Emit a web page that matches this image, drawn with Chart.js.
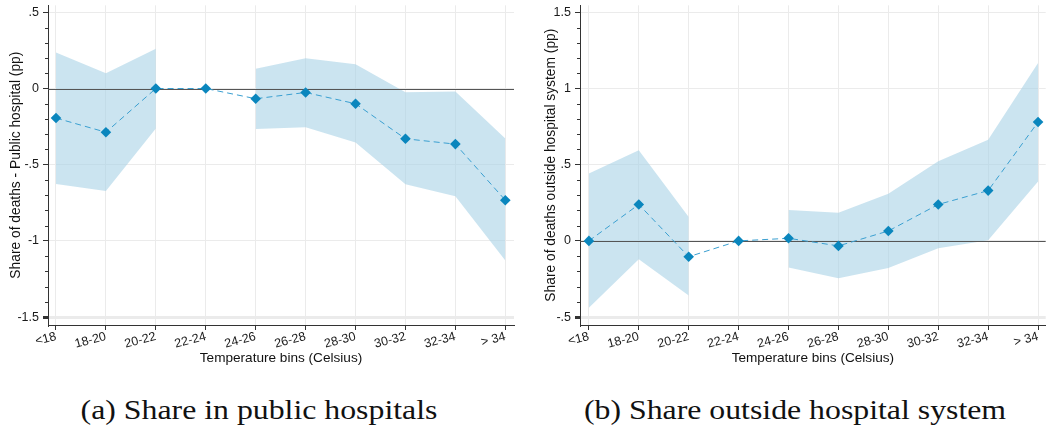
<!DOCTYPE html>
<html>
<head>
<meta charset="utf-8">
<script src="https://cdn.jsdelivr.net/npm/chart.js@4.4.1/dist/chart.umd.min.js"></script>
<style>
  html, body { margin: 0; padding: 0; background: #fff; width: 1051px; height: 432px; overflow: hidden; }
  canvas { position: absolute; top: 0; }
  #panelA { left: 0; }
  #panelB { left: 528px; }
  .cap {
    position: absolute; top: 397px; transform: translateX(-50%) scaleX(1.2);
    font-family: "Liberation Serif", "DejaVu Serif", serif; font-size: 26.5px;
    color: #111; white-space: nowrap; line-height: 1;
  }
</style>
</head>
<body>
<canvas id="panelA" width="525" height="370"></canvas>
<canvas id="panelB" width="523" height="370"></canvas>
<div class="cap" style="left:259px">(a) Share in public hospitals</div>
<div class="cap" style="left:795px">(b) Share outside hospital system</div>

<script>
// Temperature bins (Celsius)
const bins = ['<18', '18-20', '20-22', '22-24', '24-26', '26-28', '28-30', '30-32', '32-34', '> 34'];

// (a) Share of deaths in public hospitals, pp (22-24 is the reference bin)
const publicEst = [-0.194, -0.287, 0.000, 0.000, -0.067, -0.026, -0.100, -0.330, -0.365, -0.733];
const publicHi  = [ 0.237,  0.100, 0.261, null,   0.130,  0.198,  0.159, -0.024, -0.020, -0.328];
const publicLo  = [-0.626, -0.672, -0.263, null, -0.265, -0.254, -0.354, -0.628, -0.707, -1.129];

// (b) Share of deaths outside the hospital system, pp
const outsideEst = [ 0.000,  0.239, -0.104, 0.000,  0.017, -0.033,  0.065,  0.239, 0.330, 0.780];
const outsideHi  = [ 0.443,  0.594,  0.157, null,   0.202,  0.185,  0.309,  0.522, 0.663, 1.168];
const outsideLo  = [-0.439, -0.120, -0.359, null,  -0.174, -0.246, -0.178, -0.048, 0.004, 0.389];

// y-axis tick values
const publicTicks  = [-1.5, -1, -0.5, 0, 0.5];
const outsideTicks = [-0.5, 0, 0.5, 1, 1.5];

Chart.defaults.font.family = '"Liberation Sans", Arial, sans-serif';
Chart.defaults.color = '#1a1a1a';

const BAND = 'rgba(168, 210, 230, 0.6)';
const LINE = '#3a9fd0';
const MARK = '#0a86bd';

// Stata-style number labels: ".5", "-.5", "1.5"
function fmt(v) {
  if (v === 0) return '0';
  return String(v).replace(/^(-?)0\./, '$1.');
}

// zero reference line (over the band, under the series) and minor y ticks
const refPlugin = {
  id: 'refline',
  beforeDatasetsDraw(chart) {
    const { ctx, chartArea } = chart;
    const y0 = Math.round(chart.scales.y.getPixelForValue(0)) + 0.5;
    ctx.save();
    ctx.strokeStyle = '#555';
    ctx.lineWidth = 1;
    ctx.beginPath();
    ctx.moveTo(chartArea.left, y0);
    ctx.lineTo(chartArea.right, y0);
    ctx.stroke();
    ctx.restore();
  },
  afterDraw(chart) {
    const { ctx, chartArea } = chart;
    const ys = chart.scales.y;
    ctx.save();
    ctx.strokeStyle = '#333';
    ctx.lineWidth = 1;
    ctx.beginPath();
    for (let k = Math.ceil(ys.min * 10); k <= Math.floor(ys.max * 10); k++) {
      if (k % 5 === 0) continue;
      const py = Math.round(ys.getPixelForValue(k / 10)) + 0.5;
      ctx.moveTo(chartArea.left - 3, py);
      ctx.lineTo(chartArea.left, py);
    }
    ctx.stroke();
    ctx.restore();
  }
};

function pts(arr) {
  return arr.map((v, i) => ({ x: i, y: v }));
}

function makePanel(id, est, hi, lo, yTicks, yTitle, lay) {
  return new Chart(document.getElementById(id), {
    type: 'line',
    data: {
      datasets: [
        { data: pts(hi), borderWidth: 0, pointRadius: 0, fill: '+1', backgroundColor: BAND, spanGaps: false, order: 3 },
        { data: pts(lo), borderWidth: 0, pointRadius: 0, fill: false, spanGaps: false, order: 2 },
        {
          data: pts(est), borderColor: LINE, borderWidth: 1, borderDash: [6, 4], fill: false,
          pointStyle: 'rectRot', pointRadius: 5.3, pointBackgroundColor: MARK, pointBorderWidth: 0,
          tension: 0, order: 1
        }
      ]
    },
    options: {
      responsive: false,
      animation: false,
      devicePixelRatio: 1,
      layout: { padding: { left: lay.padLeft, right: lay.padRight, top: 3, bottom: 0 } },
      plugins: {
        legend: { display: false },
        tooltip: { enabled: false },
        filler: { drawTime: 'beforeDatasetsDraw' }
      },
      scales: {
        x: {
          type: 'linear',
          min: lay.xmin, max: lay.xmax,
          afterBuildTicks: s => { s.ticks = bins.map((b, i) => ({ value: i })); },
          afterFit: s => { s.height = 45; s.paddingLeft = 0; s.paddingRight = 0; },
          ticks: {
            autoSkip: false, minRotation: 15, maxRotation: 15, padding: -1,
            font: { size: 12.5 },
            callback: v => bins[v]
          },
          grid: { color: '#ebebeb', lineWidth: 1, tickLength: 5, tickColor: '#333' },
          border: { color: '#333', width: 1 },
          title: {
            display: true, text: 'Temperature bins (Celsius)', color: '#111',
            font: { size: 13.6 }, padding: { top: 0, bottom: 4 }
          }
        },
        y: {
          type: 'linear',
          min: lay.ymin, max: lay.ymax,
          afterBuildTicks: s => { s.ticks = yTicks.map(v => ({ value: v })); },
          afterFit: s => { s.width = lay.yWidth; s.paddingTop = 0; s.paddingBottom = 0; },
          ticks: { font: { size: 12.5 }, padding: 4, callback: v => fmt(v) },
          grid: {
            color: '#ebebeb',
            lineWidth: ctx => (ctx.tick && ctx.tick.value === yTicks[0] ? 3 : 1),
            tickLength: 5, tickColor: '#333'
          },
          border: { color: '#333', width: 1 },
          title: {
            display: true, text: yTitle, color: '#111',
            font: { size: 13.8 }, padding: { top: 0, bottom: 0 }
          }
        }
      }
    },
    plugins: [refPlugin]
  });
}

makePanel('panelA', publicEst, publicHi, publicLo, publicTicks,
  'Share of deaths - Public hospital (pp)',
  { padLeft: 8, yWidth: 40, padRight: 11, xmin: -0.16, xmax: 9.174, ymin: -1.552, ymax: 0.546 });

makePanel('panelB', outsideEst, outsideHi, outsideLo, outsideTicks,
  'Share of deaths outside hospital system (pp)',
  { padLeft: 15, yWidth: 37, padRight: 0, xmin: -0.178, xmax: 9.153, ymin: -0.552, ymax: 1.546 });
</script>
</body>
</html>
